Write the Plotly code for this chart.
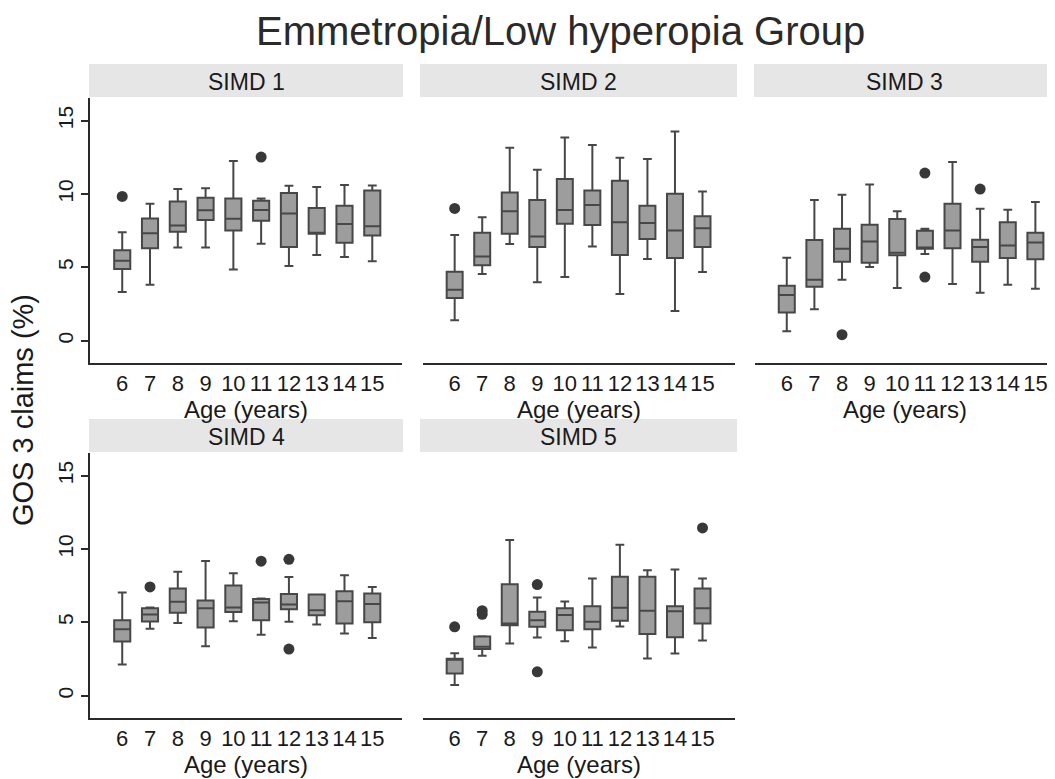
import plotly.graph_objects as go

W, H = 1055, 779
OFF = 8  # page body margin in the browser

ages = [6, 7, 8, 9, 10, 11, 12, 13, 14, 15]
panel_titles = ["SIMD 1", "SIMD 2", "SIMD 3", "SIMD 4", "SIMD 5"]

# SIMD 1
s1_lo  = [3.32, 3.82, 6.36, 6.36, 4.86, 6.61, 5.09, 5.84, 5.70, 5.41]
s1_q1  = [4.89, 6.30, 7.43, 8.23, 7.52, 8.18, 6.39, 7.30, 6.68, 7.18]
s1_med = [5.45, 7.32, 7.86, 8.89, 8.32, 8.91, 8.68, 7.34, 7.95, 7.80]
s1_q3  = [6.16, 8.34, 9.50, 9.75, 9.70, 9.55, 10.07, 9.05, 9.20, 10.25]
s1_hi  = [7.39, 9.34, 10.34, 10.39, 12.25, 9.70, 10.57, 10.48, 10.61, 10.59]
s1_out_age = [6, 11]
s1_out_val = [9.84, 12.52]

# SIMD 2
s2_lo  = [1.39, 4.55, 6.59, 3.98, 4.34, 6.43, 3.18, 5.57, 2.02, 4.68]
s2_q1  = [2.91, 5.14, 7.30, 6.39, 7.98, 7.89, 5.84, 6.93, 5.64, 6.39]
s2_med = [3.48, 5.75, 8.82, 7.11, 8.91, 9.25, 8.07, 8.02, 7.52, 7.66]
s2_q3  = [4.70, 7.36, 10.11, 9.59, 11.02, 10.25, 10.91, 9.20, 10.02, 8.48]
s2_hi  = [7.20, 8.41, 13.16, 11.66, 13.86, 13.34, 12.48, 12.39, 14.27, 10.18]
s2_out_age = [6]
s2_out_val = [9.02]

# SIMD 3
s3_lo  = [0.64, 2.14, 4.16, 5.02, 3.59, 5.91, 3.86, 3.27, 3.82, 3.55]
s3_q1  = [1.93, 3.68, 5.39, 5.32, 5.82, 6.27, 6.30, 5.39, 5.64, 5.55]
s3_med = [3.11, 4.16, 6.27, 6.77, 6.00, 6.36, 7.52, 6.39, 6.50, 6.70]
s3_q3  = [3.75, 6.86, 7.64, 7.91, 8.30, 7.50, 9.34, 6.89, 8.07, 7.36]
s3_hi  = [5.66, 9.59, 9.95, 10.66, 8.82, 7.64, 12.18, 9.00, 8.93, 9.45]
s3_out_age = [8, 11, 11, 13]
s3_out_val = [0.41, 11.43, 4.34, 10.34]

# SIMD 4
s4_lo  = [2.13, 4.56, 4.95, 3.38, 5.08, 4.15, 5.04, 4.86, 4.24, 3.93]
s4_q1  = [3.70, 5.06, 5.65, 4.65, 5.70, 5.15, 5.90, 5.49, 4.92, 5.01]
s4_med = [4.54, 5.54, 6.40, 5.97, 6.01, 6.35, 6.22, 5.83, 6.44, 6.26]
s4_q3  = [5.15, 5.97, 7.31, 6.49, 7.51, 6.60, 6.94, 6.90, 7.12, 6.97]
s4_hi  = [7.03, 6.01, 8.46, 9.19, 8.35, 6.63, 8.10, 6.90, 8.21, 7.42]
s4_out_age = [7, 11, 12, 12]
s4_out_val = [7.42, 9.17, 9.30, 3.18]

# SIMD 5
s5_lo  = [0.73, 2.72, 3.56, 3.97, 3.72, 3.29, 4.72, 2.54, 2.88, 3.77]
s5_q1  = [1.52, 3.18, 4.81, 4.70, 4.47, 4.54, 5.11, 4.20, 3.99, 4.92]
s5_med = [2.48, 3.34, 4.92, 5.15, 5.51, 5.04, 5.99, 5.79, 5.76, 5.97]
s5_q3  = [2.52, 4.04, 7.60, 5.72, 5.97, 6.10, 8.12, 8.12, 6.10, 7.31]
s5_hi  = [2.89, 4.06, 10.62, 6.69, 6.42, 7.99, 10.30, 8.55, 8.60, 7.99]
s5_out_age = [6, 7, 7, 9, 9, 15]
s5_out_val = [4.70, 5.55, 5.80, 7.58, 1.63, 11.44]

y_ticks = [0, 5, 10, 15]
y_tick_labels = ["0", "5", "10", "15"]

panels = [
    (s1_lo, s1_q1, s1_med, s1_q3, s1_hi, s1_out_age, s1_out_val),
    (s2_lo, s2_q1, s2_med, s2_q3, s2_hi, s2_out_age, s2_out_val),
    (s3_lo, s3_q1, s3_med, s3_q3, s3_hi, s3_out_age, s3_out_val),
    (s4_lo, s4_q1, s4_med, s4_q3, s4_hi, s4_out_age, s4_out_val),
    (s5_lo, s5_q1, s5_med, s5_q3, s5_hi, s5_out_age, s5_out_val),
]

# layout geometry in screen pixels: plot area x, plot area y (top, bottom), strip box
geo = [
    dict(x=(90, 402), y=(98, 363), strip=(89, 403, 64, 97), xr=(4.84, 16.07)),
    dict(x=(423, 735), y=(98, 363), strip=(420, 737, 64, 97), xr=(4.85, 16.18)),
    dict(x=(755, 1055), y=(98, 363), strip=(754, 1058, 64, 97), xr=(4.85, 15.71)),
    dict(x=(90, 402), y=(453, 718), strip=(89, 403, 419, 452), xr=(4.84, 16.07)),
    dict(x=(423, 735), y=(453, 718), strip=(420, 737, 419, 452), xr=(4.85, 16.18)),
]

def px(x):
    return (x - OFF) / W

def py(y):
    return 1 - (y - OFF) / H

BOX_FILL = "#9d9d9d"
BOX_LINE = "#474747"
DOT = "#383838"
FONT = "Liberation Sans, Arial, sans-serif"

fig = go.Figure()
layout = dict(
    width=W, height=H, autosize=False,
    margin=dict(l=0, r=0, t=0, b=0),
    paper_bgcolor="white", plot_bgcolor="white",
    showlegend=False,
    font=dict(family=FONT, color="#1a1a1a"),
    shapes=[], annotations=[],
)

for i, (lo, q1, med, q3, hi, oa, ov) in enumerate(panels):
    n = "" if i == 0 else str(i + 1)
    g = geo[i]
    fig.add_trace(go.Box(
        x=ages, q1=q1, median=med, q3=q3, lowerfence=lo, upperfence=hi,
        fillcolor=BOX_FILL, line=dict(color=BOX_LINE, width=2),
        width=0.58, whiskerwidth=0.55, boxpoints=False,
        xaxis="x" + n, yaxis="y" + n, hoverinfo="skip",
    ))
    fig.add_trace(go.Scatter(
        x=oa, y=ov, mode="markers",
        marker=dict(color=DOT, size=11, line=dict(width=0)),
        xaxis="x" + n, yaxis="y" + n, hoverinfo="skip",
    ))
    left = i in (0, 3)
    layout["xaxis" + n] = dict(
        domain=[px(g["x"][0]), min(1.0, px(g["x"][1]))],
        anchor="y" + n, range=list(g["xr"]),
        tickmode="array", tickvals=ages, ticktext=[str(a) for a in ages],
        tickangle=0, ticks="", showgrid=False, zeroline=False,
        showline=True, linecolor="#2a2a2a", linewidth=1.5,
        tickfont=dict(size=22, color="#1a1a1a"),
        title=dict(text="Age (years)", font=dict(size=24, color="#1a1a1a"), standoff=0),
        fixedrange=True,
    )
    layout["yaxis" + n] = dict(
        domain=[py(g["y"][1]), py(g["y"][0])],
        anchor="x" + n, range=[-1.52, 16.55],
        tickmode="array", tickvals=y_ticks, ticktext=y_tick_labels,
        tickangle=-90, showgrid=False, zeroline=False,
        showline=left, linecolor="#2a2a2a", linewidth=1.5,
        ticks="outside" if left else "", ticklen=7, tickcolor="#2a2a2a", tickwidth=1.5,
        showticklabels=left,
        tickfont=dict(size=21, color="#1a1a1a"),
        fixedrange=True,
    )
    sx0, sx1, sy0, sy1 = g["strip"]
    layout["shapes"].append(dict(
        type="rect", xref="paper", yref="paper",
        x0=px(sx0), x1=px(sx1), y0=py(sy1), y1=py(sy0),
        fillcolor="#e6e6e6", line=dict(width=0), layer="below",
    ))
    layout["annotations"].append(dict(
        text=panel_titles[i], xref="paper", yref="paper",
        x=px((sx0 + min(sx1, 1055)) / 2), y=py((sy0 + sy1) / 2 + 1),
        xanchor="center", yanchor="middle", showarrow=False,
        font=dict(size=23, color="#1a1a1a"),
    ))

layout["annotations"].append(dict(
    text="Emmetropia/Low hyperopia Group", xref="paper", yref="paper",
    x=px(560), y=py(31), xanchor="center", yanchor="middle", showarrow=False,
    font=dict(size=40, color="#2a2a2a"),
))
layout["annotations"].append(dict(
    text="GOS 3 claims (%)", xref="paper", yref="paper",
    x=px(23), y=py(410), xanchor="center", yanchor="middle", showarrow=False,
    textangle=-90, font=dict(size=29, color="#1a1a1a"),
))

fig.update_layout(**layout)
fig.write_html("out.html")
